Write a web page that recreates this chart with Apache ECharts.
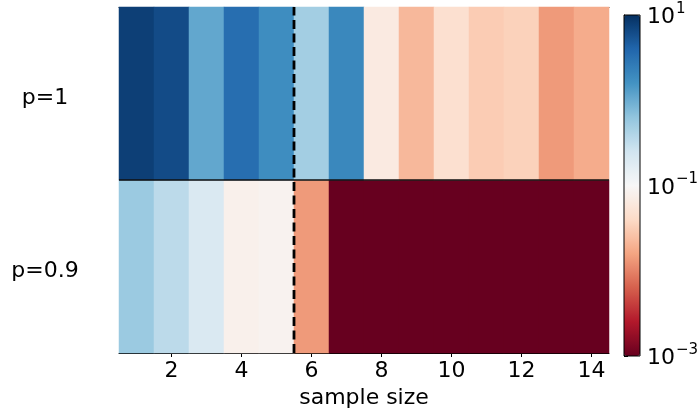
<!DOCTYPE html>
<html>
<head>
<meta charset="utf-8">
<script src="https://cdn.jsdelivr.net/npm/echarts@6/dist/echarts.min.js"></script>
<style>
html,body{margin:0;padding:0;background:#fff;}
#chart{width:699px;height:410px;}
</style>
</head>
<body>
<div id="chart"></div>
<script>
// ---- data ----
const sampleSizes = ['1','2','3','4','5','6','7','8','9','10','11','12','13','14'];
const rowLabels = ['p=0.9', 'p=1'];           // bottom row first (category y axis grows upward)
const valuesP1  = [7.7, 6.3, 1.1, 3.4, 1.8, 0.49, 2.0, 0.066, 0.022, 0.047, 0.031, 0.034, 0.0137, 0.018];
const valuesP09 = [0.55, 0.34, 0.2, 0.079, 0.085, 0.0137, 0.001, 0.001, 0.001, 0.001, 0.001, 0.001, 0.001, 0.001];
const colorLogMin = -3, colorLogMax = 1;       // colour scale 10^-3 .. 10^1
const colorTickLabels = ['{b|10}{s|−3}', '{b|10}{s|−1}', '{b|10}{s|1}'];
const thresholdSize = 5.5;                     // dashed vertical reference line
const rdbu = ['#67001f','#b2182b','#d6604d','#f4a582','#fddbc7','#f7f7f7','#d1e5f0','#92c5de','#4393c3','#2166ac','#053061'];

// ---- build heatmap data ----
const heatData = [];
[valuesP09, valuesP1].forEach((row, yi) => {
  row.forEach((v, xi) => heatData.push([xi, yi, Math.log10(v)]));
});

const FONT = 'DejaVu Sans';
const FS = 22;
const chart = echarts.init(document.getElementById('chart'), null, {renderer: 'canvas'});
chart.setOption({
  animation: false,
  backgroundColor: '#fff',
  textStyle: {fontFamily: FONT},
  grid: [
    {left: 119, top: 7, width: 490, height: 346, outerBoundsMode: 'none', containLabel: false},
    {left: 624, top: 15, width: 16, height: 341, show: true, z: 10, outerBoundsMode: 'none', containLabel: false,
     borderColor: '#000', borderWidth: 1, backgroundColor: 'transparent'}
  ],
  xAxis: [
    {type: 'category', gridIndex: 0, data: sampleSizes, position: 'bottom',
     name: 'sample size', nameLocation: 'middle', nameGap: 34,
     nameTextStyle: {fontSize: FS, color: '#000', fontFamily: FONT},
     axisLine: {show: true, lineStyle: {color: '#000', width: 1}},
     axisTick: {show: true, alignWithLabel: true, length: 4, lineStyle: {color: '#000'},
                interval: (i) => (i + 1) % 2 === 0},
     axisLabel: {interval: (i) => (i + 1) % 2 === 0, fontSize: FS, color: '#000', margin: 7, fontFamily: FONT},
     splitLine: {show: false}},
    {type: 'value', gridIndex: 0, min: 0.5, max: 14.5, position: 'top',
     axisLine: {show: true, onZero: false, lineStyle: {color: '#000', width: 1}},
     axisTick: {show: false}, axisLabel: {show: false}, splitLine: {show: false}},
    {type: 'value', gridIndex: 1, min: 0, max: 1, show: false}
  ],
  yAxis: [
    {type: 'category', gridIndex: 0, data: rowLabels,
     axisLine: {show: false}, axisTick: {show: false},
     axisLabel: {fontSize: FS, color: '#000', align: 'center', margin: 74, fontFamily: FONT,
       formatter: (v) => '{a|' + v + '}',
       rich: {a: {fontSize: FS, fontFamily: FONT, color: '#000', padding: [10, 0, 0, 0]}}},
     splitLine: {show: false}},
    {type: 'value', gridIndex: 0, min: 0, max: 2, show: false},
    {type: 'value', gridIndex: 1, min: 0, max: colorLogMax - colorLogMin, interval: 2, position: 'right',
     axisLine: {show: true, lineStyle: {color: '#000', width: 1}},
     axisTick: {show: true, length: 4, inside: false, lineStyle: {color: '#000'}},
     splitLine: {show: false},
     axisLabel: {margin: 7, color: '#000', fontFamily: FONT, fontSize: FS,
       formatter: (v) => colorTickLabels[Math.round(v / 2)],
       rich: {
         b: {fontSize: FS, fontFamily: FONT, color: '#000', padding: [5, 0, 0, 0]},
         s: {fontSize: 15, fontFamily: FONT, color: '#000', verticalAlign: 'top', lineHeight: 14, padding: [0, 0, 0, 1]}
       }}}
  ],
  visualMap: {
    type: 'continuous', seriesIndex: 0, min: colorLogMin, max: colorLogMax,
    orient: 'vertical', left: 624, top: 15, itemWidth: 16, itemHeight: 341,
    padding: 0, calculable: false, hoverLink: false, text: null, showLabel: false,
    inRange: {color: rdbu}
  },
  series: [
    {type: 'heatmap', xAxisIndex: 0, yAxisIndex: 0, data: heatData,
     itemStyle: {borderWidth: 0}, emphasis: {disabled: true}, progressive: 0},
    {type: 'line', xAxisIndex: 1, yAxisIndex: 1, z: 5, symbol: 'none', silent: true,
     data: [[0.5, 1], [14.5, 1]], lineStyle: {color: '#111', width: 1.5}},
    {type: 'line', xAxisIndex: 1, yAxisIndex: 1, z: 6, symbol: 'none', silent: true,
     data: [[thresholdSize, 0], [thresholdSize, 2]], lineStyle: {color: '#000', width: 2.8, type: [9, 4.5]}}
  ]
});
</script>
</body>
</html>
